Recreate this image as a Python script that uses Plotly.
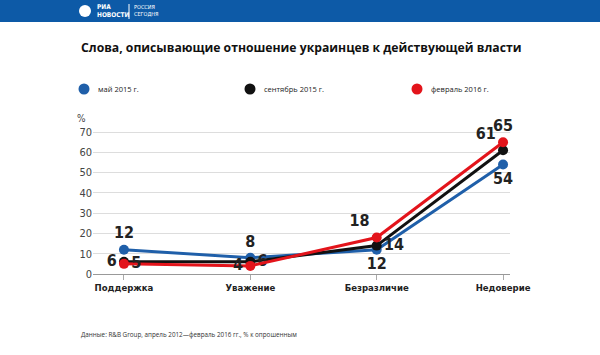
import plotly.graph_objects as go

categories = ["Поддержка", "Уважение", "Безразличие", "Недоверие"]
series_names = ["май 2015 г.", "сентябрь 2015 г.", "февраль 2016 г."]
may_2015 = [12, 8, 12, 54]
sep_2015 = [6, 6, 14, 61]
feb_2016 = [5, 4, 18, 65]
y_ticks = [0, 10, 20, 30, 40, 50, 60, 70]

colors = ["#1f5fa9", "#111111", "#e3141b"]
label_pos = [
    ["top center", "top center", "bottom center", "bottom center"],
    ["middle left", "middle right", "middle right", "top left"],
    ["middle right", "middle left", "top left", "top center"],
]
COND = "DejaVu Sans Condensed, Liberation Sans Narrow, sans-serif"

W, H = 600, 355
L, R, T, B = 93, 90, 128, 81
PW, PH = W - L - R, H - T - B


def px(x):
    return (x - L) / PW


def py(y):
    return (H - B - y) / PH


fig = go.Figure()
for name, vals, col, pos in zip(series_names, [may_2015, sep_2015, feb_2016], colors, label_pos):
    fig.add_trace(go.Scatter(
        x=categories, y=vals, mode="lines+markers+text", name=name,
        line=dict(color=col, width=3), marker=dict(color=col, size=10),
        text=[str(v) for v in vals], textposition=pos,
        textfont=dict(family=COND, size=16, color="#222222", weight="bold"),
        showlegend=False, cliponaxis=False, hoverinfo="skip",
    ))

shapes = [dict(type="rect", xref="paper", yref="paper", x0=px(0), x1=px(W),
               y0=py(22), y1=py(0), fillcolor="#0d5aa7", line=dict(width=0), layer="below")]
annotations = [
    dict(text="Слова, описывающие отношение украинцев к действующей власти",
         xref="paper", yref="paper", x=px(79), y=py(47),
         xanchor="left", yanchor="middle", showarrow=False,
         font=dict(family="Open Sans, sans-serif", size=12.2, color="#111", weight=700)),
    dict(text="%", xref="paper", yref="paper", x=px(88), y=py(118),
         xanchor="right", yanchor="middle", showarrow=False,
         font=dict(family=COND, size=10, color="#444")),
    dict(text="Данные: R&B Group, апрель 2012—февраль 2016 гг., % к опрошенным",
         xref="paper", yref="paper", x=px(79), y=py(334),
         xanchor="left", yanchor="middle", showarrow=False,
         font=dict(family="Open Sans, sans-serif", size=6.3, color="#333")),
    dict(text="<b>РИА<br>НОВОСТИ</b>", xref="paper", yref="paper",
         x=px(95), y=py(11), xanchor="left", yanchor="middle", showarrow=False,
         align="left", font=dict(family=COND, size=6.5, color="white")),
    dict(text="РОССИЯ<br>СЕГОДНЯ", xref="paper", yref="paper",
         x=px(132), y=py(11), xanchor="left", yanchor="middle", showarrow=False,
         align="left", font=dict(family=COND, size=5.5, color="white")),
]
shapes.append(dict(type="line", xref="paper", yref="paper", x0=px(129), x1=px(129),
                   y0=py(4), y1=py(19), line=dict(color="white", width=1)))
shapes.append(dict(type="circle", xref="paper", yref="paper", x0=px(79), x1=px(91),
                   y0=py(17), y1=py(5), fillcolor="white", line=dict(width=0)))

leg_x = [84, 250, 417]
for name, col, lx in zip(series_names, colors, leg_x):
    shapes.append(dict(type="circle", xref="paper", yref="paper",
                       x0=px(lx - 5.5), x1=px(lx + 5.5), y0=py(89 + 5.5), y1=py(89 - 5.5),
                       fillcolor=col, line=dict(width=0)))
    annotations.append(dict(text=name, xref="paper", yref="paper", x=px(lx + 12), y=py(89),
                            xanchor="left", yanchor="middle", showarrow=False,
                            font=dict(family="Open Sans, sans-serif", size=7.5, color="#222")))

fig.update_layout(
    width=W, height=H,
    margin=dict(l=L, r=R, t=T, b=B),
    paper_bgcolor="white", plot_bgcolor="white",
    showlegend=False, hovermode=False,
    xaxis=dict(type="category", range=[-0.245, 3.055], showgrid=False, automargin=False,
               showline=True, linecolor="#999", linewidth=1,
               ticks="outside", ticklen=5, tickcolor="#aaa",
               tickfont=dict(family=COND, size=9.5, color="#222", weight="bold")),
    yaxis=dict(range=[0, 72], tickvals=y_ticks, showgrid=True, gridcolor="#dddddd",
               zeroline=False, showline=False, ticks="", automargin=False,
               tickfont=dict(family=COND, size=11, color="#444")),
    shapes=shapes,
    annotations=annotations,
)
fig.write_html("out.html", config={"displayModeBar": False, "staticPlot": True},
               post_script="document.body.style.margin='0';document.body.style.overflow='hidden';")
